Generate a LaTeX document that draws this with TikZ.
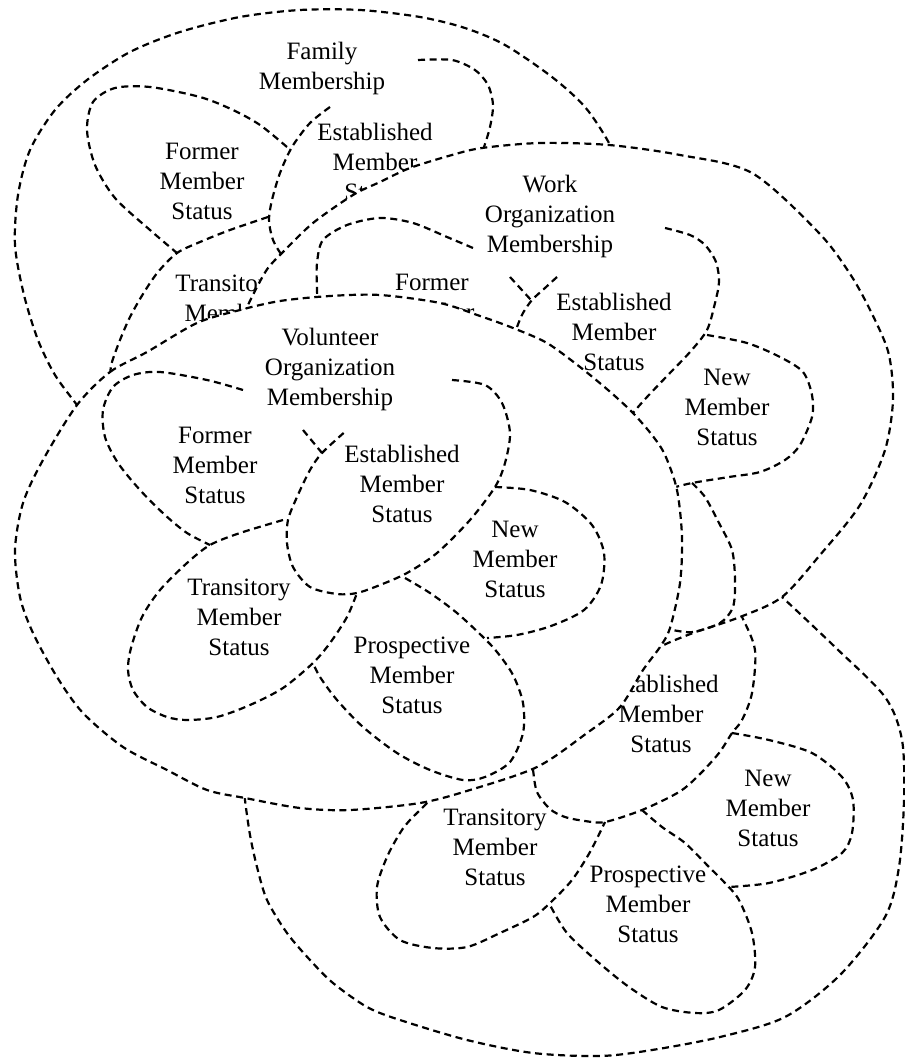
\documentclass[tikz,border=0pt]{standalone}
\usepackage{fontspec}
\setmainfont{Liberation Serif}
\begin{document}
\begin{tikzpicture}[x=0.5pt, y=-0.5pt]
    % Styles: outer rings hide what lies behind them, inner status parts are plain dashed arcs
    \tikzset{
        ring/.style={draw=black, fill=white, line width=1.1pt, dash pattern=on 3.5pt off 2.3pt},
        part/.style={draw=black, line width=1.1pt, dash pattern=on 3.5pt off 2.3pt},
        lbl/.style={font=\fontsize{12.5}{15}\selectfont, align=center, inner sep=0pt}
    }
    \useasboundingbox (0,0) rectangle (904,1059);

    % Family membership (furthest back)
    \path[ring] plot[smooth] coordinates {(92,425) (77,405) (55,375) (38,340) (24,295) (15,245) (18,195) (30,150) (55,110) (87,80) (130,52) (180,32) (240,17) (300,10) (360,10) (420,17) (465,28) (505,45) (552,77) (585,107) (609,143) (622,175)};
    \path[part] plot[smooth] coordinates {(287,147) (260,125) (233,110) (200,97) (150,87) (115,88) (93,102) (87,130) (95,165) (115,198) (150,230) (177,253)};
    \path[part] plot[smooth] coordinates {(268,217) (230,230) (200,242) (177,253) (158,272) (143,294) (130,317) (120,340) (112,362) (110,375) (109,392)};
    \path[part] plot[smooth] coordinates {(418,60) (452,60) (475,70) (488,85) (493,105) (490,127) (484,147) (476,170)};
    \path[part] plot[smooth] coordinates {(330,107) (310,123) (292,147) (280,173) (272,200) (269,220) (273,240) (283,257) (295,272)};
    \node[lbl] (famtitle) at (322,68) {Family\\Membership};
    \foreach \nm/\x/\y/\first in {famformer/202/181/Former, famestab/375/162/Established, famtrans/227/313/Transitory}
        \node[lbl] (\nm) at (\x,\y) {\first\\Member\\Status};

    % Lower membership ring (title hidden behind the others)
    \path[ring] plot[smooth] coordinates {(244,785) (245,800) (250,835) (257,867) (267,900) (287,933) (310,960) (333,983) (367,1007) (400,1020) (467,1040) (533,1053) (600,1056) (652,1050) (720,1037) (785,1017) (840,975) (885,917) (899,867) (904,800) (902,740) (885,697) (835,647) (782,597) (770,587)};
    \path[part] plot[smooth] coordinates {(732,733) (769,740) (812,753) (842,777) (853,800) (852,833) (842,853) (812,870) (769,883) (729,887)};
    \path[part] plot[smooth] coordinates {(642,810) (662,827) (685,843) (709,867) (725,883) (739,900) (752,933) (755,967) (745,990) (719,1010) (695,1013) (662,1007) (629,987) (598,962) (567,933) (550,905)};
    \path[part] plot[smooth] coordinates {(433,793) (427,803) (410,820) (400,833) (387,857) (377,887) (380,917) (400,940) (433,948) (467,947) (500,933) (533,917) (550,903) (572,880) (590,852) (605,822)};
    \path[part] plot[smooth] coordinates {(531,758) (533,770) (537,792) (550,809) (565,817) (585,821) (605,822) (642,810) (679,792) (699,775) (719,753) (732,733) (742,720) (752,693) (755,650) (742,617) (733,603)};
    \foreach \nm/\x/\y/\first in {lowestab/661/714/Established, lownew/768/808/New, lowtrans/495/847/Transitory, lowprosp/648/904/Prospective}
        \node[lbl] (\nm) at (\x,\y) {\first\\Member\\Status};

    % Work organization membership
    \path[ring] plot[smooth] coordinates {(238,325) (247,307) (257,287) (268,268) (283,252) (313,223) (353,195) (380,182) (410,168) (452,155) (482,148) (540,143) (609,145) (680,155) (752,173) (819,233) (852,277) (875,320) (889,355) (893,400) (885,450) (860,505) (820,555) (782,597) (740,617) (693,633) (660,647) (648,660)};
    \path[part] plot[smooth] coordinates {(473,248) (447,237) (413,223) (380,218) (347,225) (323,240) (317,263) (317,290) (318,310)};
    \path[part] (510,277) -- (531,300);
    \path[part] plot[smooth] coordinates {(692,483) (705,497) (719,523) (732,550) (735,580) (733,607) (720,623) (693,632) (672,630) (660,628)};
    \path[part] plot[smooth] coordinates {(557,277) (545,288) (532,300) (523,313) (517,327) (512,342)};
    \path[part] plot[smooth] coordinates {(665,228) (690,235) (705,245) (716,262) (719,282) (715,303) (707,330) (690,352) (668,375) (647,397) (633,413) (622,428)};
    \path[part] plot[smooth] coordinates {(707,335) (747,343) (780,357) (803,372) (812,395) (812,417) (800,445) (785,460) (760,472) (729,477) (692,483) (672,488)};
    \node[lbl] (worktitle) at (550,216) {Work\\Organization\\Membership};
    \foreach \nm/\x/\y/\first in {workformer/432/312/Former, workestab/614/332/Established, worknew/727/407/New}
        \node[lbl] (\nm) at (\x,\y) {\first\\Member\\Status};

    % Volunteer organization membership (in front)
    \path[ring] plot[smooth cycle] coordinates {(77,405) (110,372) (147,352) (197,323) (240,310) (280,301) (330,296) (380,295) (440,303) (480,316) (513,328) (547,343) (580,367) (608,390) (632,412) (652,435) (665,455) (677,490) (682,537) (680,583) (670,628) (660,647) (643,670) (620,707) (587,733) (537,767) (470,790) (420,803) (350,810) (300,808) (245,798) (207,790) (167,770) (123,747) (83,713) (57,677) (33,633) (20,597) (15,550) (23,503) (43,460)};
    \path[part] plot[smooth] coordinates {(243,390) (207,380) (160,372) (133,375) (113,387) (103,410) (105,437) (118,463) (140,490) (165,515) (187,533) (210,545)};
    \path[part] (303,430) -- (322,453);
    \path[part] plot[smooth] coordinates {(495,487) (530,490) (565,502) (592,525) (604,553) (601,585) (584,610) (551,626) (517,635) (487,638)};
    \path[part] plot[smooth] coordinates {(405,578) (430,593) (457,613) (483,637) (497,652) (513,675) (523,703) (523,733) (510,762) (485,777) (463,780) (430,770) (397,753) (363,727) (337,700) (320,677) (313,663)};
    \path[part] plot[smooth] coordinates {(283,520) (240,533) (210,545) (187,563) (160,590) (142,617) (131,648) (128,670) (133,690) (147,707) (167,717) (187,720) (217,717) (250,705) (283,688) (313,663) (330,643) (347,617) (357,593)};
    \path[part] plot[smooth] coordinates {(452,380) (485,385) (502,403) (510,433) (505,463) (495,487) (470,520) (437,553) (407,573) (380,585) (357,593) (337,594) (310,587) (293,567) (287,543) (288,520) (297,497) (310,470) (322,453) (347,430)};
    \node[lbl] (voltitle) at (330,369) {Volunteer\\Organization\\Membership};
    \foreach \nm/\x/\y/\first in {volformer/215/465/Former, volestab/402/484/Established, volnew/515/559/New, volprosp/412/675/Prospective, voltrans/239/617/Transitory}
        \node[lbl] (\nm) at (\x,\y) {\first\\Member\\Status};
\end{tikzpicture}
\end{document}
